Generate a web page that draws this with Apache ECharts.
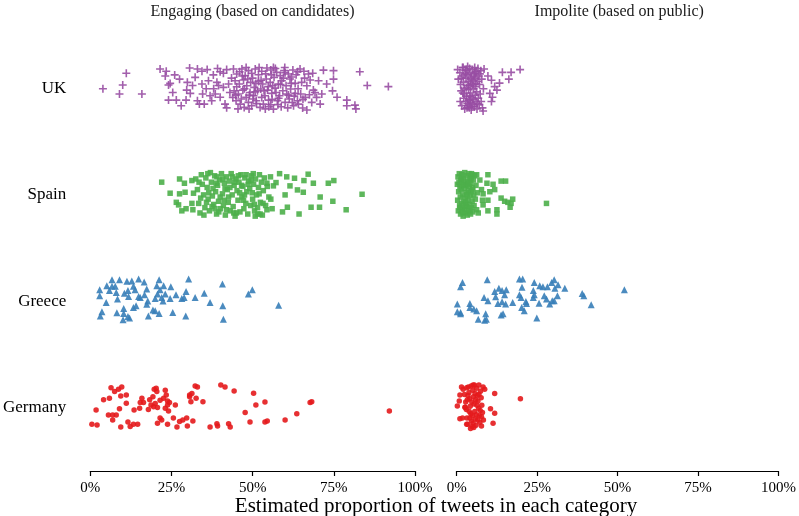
<!DOCTYPE html>
<html>
<head>
<meta charset="utf-8">
<title>Engaging vs impolite tweets</title>
<script src="https://cdn.jsdelivr.net/npm/echarts@6.0.0/dist/echarts.min.js"></script>
<style>
  html, body { margin: 0; padding: 0; background: #fff; }
  #chart { width: 799px; height: 516px; }
</style>
</head>
<body>
<div id="chart"></div>
<script>
// categories, bottom to top (y = index + 1)
var countries = ['Germany', 'Greece', 'Spain', 'UK'];
var panels = ['Engaging (based on candidates)', 'Impolite (based on public)'];
var xTicks = [0, 25, 50, 75, 100];

// every point: [percent of tweets, vertical jitter]
var ukEngaging = [
  [3.9,0.0],[11.1,0.145],[10.0,0.035],[9.0,-0.05],[15.9,-0.05],[21.5,0.185],[23.4,0.165],[23.1,0.12],
  [27.5,0.09],[24.1,0.035],[24.6,0.05],[25.4,-0.035],[24.1,-0.107],[26.5,-0.107],[29.9,0.06],[30.6,0.195],
  [33.0,0.185],[34.4,0.165],[29.7,-0.013],[30.8,-0.044],[29.5,-0.107],[33.0,-0.113],[33.6,-0.145],[34.4,0.044],
  [34.6,-0.05],[35.7,0.0],[37.4,-0.113],[32.3,0.107],[36.9,-0.066],[35.1,-0.145],[36.4,0.075],
  [37.9,0.13],[39.2,0.19],[40.0,0.16],[41.0,0.145],[42.0,0.18],[39.0,0.06],[39.5,0.03],[38.5,-0.05],
  [40.0,-0.08],[41.5,-0.145],[42.0,-0.18],[41.0,0.013],[42.6,0.044],[43.0,-0.035],
  [44.1,0.186],[45.1,0.138],[46.7,0.186],[47.7,0.123],[48.7,0.17],[49.7,0.145],[50.8,0.186],[51.8,0.132],
  [52.8,0.164],[44.6,0.075],[45.9,0.044],[47.2,0.082],[48.2,0.028],[49.4,0.06],[50.5,0.013],[51.8,0.069],
  [53.1,0.044],[44.3,-0.019],[45.6,-0.05],[47.0,-0.013],[48.0,-0.082],[49.2,-0.035],[50.3,-0.066],[51.5,-0.019],
  [52.8,-0.082],[44.9,-0.113],[46.2,-0.145],[47.4,-0.176],[48.7,-0.129],[49.7,-0.16],[51.1,-0.113],[52.3,-0.176],
  [53.3,-0.145],[43.9,-0.082],[45.1,0.019],[46.5,-0.097],[48.5,0.091],[50.1,-0.097],[52.5,-0.003],
  [54.4,0.195],[55.6,0.176],[56.4,0.2],[57.4,0.154],[58.5,0.123],[59.7,0.17],[61.0,0.138],[62.4,0.176],
  [63.4,0.132],[54.2,0.091],[55.4,0.06],[56.6,0.107],[57.9,0.044],[59.0,0.075],[60.3,0.028],[61.5,0.091],
  [63.1,0.05],[54.6,-0.013],[55.9,-0.044],[56.9,0.006],[58.3,-0.066],[59.3,-0.019],[60.5,-0.05],[61.7,-0.003],
  [63.1,-0.044],[54.9,-0.107],[55.6,-0.151],[56.4,-0.192],[57.6,-0.113],[58.8,-0.17],[60.0,-0.129],[61.3,-0.097],
  [62.6,-0.16],[63.8,-0.113],[57.2,-0.035],[53.8,-0.066],
  [64.6,0.186],[65.8,0.164],[67.2,0.138],[68.5,0.145],[65.1,0.06],[66.7,0.028],[67.7,0.082],[68.7,-0.013],
  [64.8,-0.05],[66.2,-0.082],[67.5,-0.057],[64.1,-0.145],[65.4,-0.182],[66.7,-0.2],[68.2,-0.129],[69.7,-0.082],
  [83.0,0.16],[85.3,0.03],[91.8,0.02],[79.0,-0.107],[79.0,-0.16],[81.5,-0.155],[81.8,-0.19],[76.0,-0.08],
  [74.9,0.17],[71.8,0.175],[72.8,0.044],[74.6,-0.02],[74.9,0.09],[70.3,0.075],[70.8,-0.145],[71.3,-0.05],[69.2,-0.035],
  [43.5,0.1],[44.8,-0.06],[46.0,0.16],[47.5,0.0],[48.9,-0.19],[50.0,0.1],[51.2,-0.14],[52.0,0.2],[53.5,-0.02],
  [54.0,0.14],[55.0,-0.17],[56.2,0.03],[57.0,0.19],[58.0,-0.09],[59.5,0.1],[60.8,-0.18],[61.9,0.05],[62.8,-0.07],
  [63.9,0.16],[65.5,-0.1],[46.8,0.12],[49.0,-0.06],[51.0,0.05],[53.9,-0.19],[55.8,0.13],[57.8,-0.15],[59.9,0.2],
  [61.0,-0.06],[62.0,0.11],[64.0,0.0],[45.5,-0.19],[48.0,0.2],[50.8,-0.03],[52.6,0.08],[54.8,0.02],[56.0,-0.1],
  [58.6,0.04],[60.0,0.15],[62.2,-0.13],[66.0,0.1],[38.0,0.0],[36.0,0.18],[31.5,0.03],[28.0,-0.16],[26.0,0.13]
];
var ukImpolite = [
  [0.3,0.18],[0.5,0.09],[1.0,0.15],[1.2,0.04],[1.4,-0.02],[1.1,-0.12],[1.6,-0.16],[1.8,0.2],[2.0,0.12],[2.1,0.06],
  [2.3,-0.05],[2.2,-0.09],[2.5,-0.19],[2.7,0.17],[2.9,0.1],[3.0,0.01],[3.1,-0.07],[3.3,-0.14],[3.4,0.21],[3.5,0.13],
  [3.6,0.07],[3.7,-0.01],[3.8,-0.11],[3.9,-0.18],[4.0,0.19],[4.1,0.15],[4.2,0.03],[4.3,-0.04],[4.4,-0.13],[4.5,-0.2],
  [4.6,0.11],[4.7,0.05],[4.8,-0.08],[4.9,0.18],[5.0,-0.15],[5.1,0.08],[5.2,0.0],[5.3,-0.1],[5.4,0.14],[5.5,-0.17],
  [5.6,0.2],[5.7,0.02],[5.8,-0.06],[5.9,0.1],[6.0,-0.12],[6.1,0.16],[6.2,-0.03],[6.3,-0.19],[6.5,0.07],[6.6,0.19],
  [6.7,-0.09],[6.8,0.12],[7.0,-0.15],[7.1,0.04],[7.3,-0.05],[7.5,0.17],[7.6,-0.12],[7.8,0.09],[8.0,-0.18],[8.3,0.0],
  [1.5,0.1],[2.4,0.0],[2.6,0.14],[3.2,-0.18],[3.6,-0.16],[4.4,0.09],[4.0,-0.07],[5.0,0.04],[5.5,0.12],[6.0,0.05],
  [2.8,-0.12],[1.9,-0.04],[3.0,0.18],[4.7,-0.17],[5.8,0.16],[6.4,-0.14],[7.2,0.14],[3.5,0.03],[4.2,-0.1],[2.0,0.2],
  [14.2,0.154],[16.9,0.154],[19.7,0.18],[16.2,0.09],[13.3,0.053],[11.8,0.02],[12.5,-0.013],[10.3,-0.044],
  [11.1,-0.08],[10.8,-0.12],[8.2,-0.21],[8.5,0.185],[9.7,0.12],[10.8,0.08]
];
var spainEngaging = [
  [22.0,0.12],[24.6,0.016],[27.5,0.15],[29.0,0.11],[27.5,0.01],[26.5,-0.07],[27.2,-0.094],[28.2,-0.15],
  [29.5,-0.13],[29.2,0.025],[31.3,0.135],[31.8,0.016],[31.3,-0.08],[31.6,-0.14],
  [32.5,0.15],[33.0,0.05],[33.4,-0.08],[33.8,-0.17],[34.2,0.19],[34.5,0.1],[34.9,0.0],[35.3,-0.12],[35.6,0.16],
  [36.0,0.07],[36.3,-0.04],[36.7,-0.15],[37.0,0.21],[37.3,0.12],[37.6,-0.01],[38.0,-0.09],[38.3,0.18],[38.6,0.03],
  [38.9,-0.18],[39.2,0.09],[39.5,-0.06],[39.8,0.14],[40.1,-0.13],[40.4,0.2],[40.7,0.01],[41.0,-0.1],[41.3,0.11],
  [41.6,-0.19],[41.9,0.17],[42.2,0.05],[42.5,-0.07],[42.8,0.13],[43.1,-0.15],[43.4,0.2],[43.7,0.0],[44.0,-0.11],
  [44.3,0.09],[44.6,-0.2],[44.9,0.15],[45.2,0.04],[45.5,-0.05],[45.8,0.12],[46.1,-0.16],[46.4,0.19],[46.7,-0.02],
  [47.0,0.08],[47.3,-0.13],[47.6,0.16],[47.9,-0.08],[48.2,0.03],[48.5,-0.18],[48.8,0.13],[49.1,0.06],[49.4,-0.1],
  [49.7,0.18],[50.0,-0.04],[50.3,0.1],[50.6,-0.15],[50.9,0.15],[51.2,0.0],[51.5,-0.12],[51.8,0.07],[52.1,0.19],
  [52.4,-0.07],[52.7,0.12],[53.0,-0.19],[53.3,0.04],[53.6,0.16],[54.0,-0.1],[54.5,0.08],[55.0,-0.02],[55.5,0.17],
  [56.0,-0.13],[34.0,-0.03],[36.5,0.02],[38.8,0.11],[40.0,-0.02],[42.0,-0.14],[44.5,0.12],[46.0,0.02],[48.0,0.19],
  [50.5,-0.09],[52.0,0.01],[37.5,-0.11],[43.0,0.07],[45.0,-0.17],[47.5,0.0],[49.5,0.14],[39.0,0.17],[41.5,0.06],
  [58.3,0.2],[60.5,0.17],[62.9,0.157],[67.1,0.195],[65.8,0.135],[68.7,0.11],[73.3,0.11],[75.0,0.135],[83.7,0.006],
  [70.8,-0.02],[74.7,-0.06],[78.8,-0.14],[68.0,-0.116],[70.6,-0.116],[64.3,-0.18],[59.2,-0.16],[60.7,-0.116],
  [60.0,0.0],[63.8,0.047],[65.6,0.025],[61.5,0.085],[57.2,0.116],[56.4,0.085],[54.4,0.11],[55.6,-0.04],
  [54.4,-0.14],[52.3,-0.18],[50.8,-0.2],
  [33.5,0.12],[35.0,-0.19],[36.2,0.2],[37.8,0.06],[39.6,-0.16],[40.8,0.15],[42.6,-0.02],[44.2,-0.17],[45.6,0.18],
  [47.2,-0.05],[48.6,0.1],[50.2,0.2],[51.6,-0.18],[53.2,-0.08],[35.8,-0.07],[38.4,-0.13],[41.2,-0.05],[43.8,0.17],
  [46.6,0.09],[49.9,0.02]
];
var spainImpolite = [
  [0.2,0.1],[0.3,-0.05],[0.4,0.17],[0.5,-0.15],[0.6,0.03],[0.8,0.2],[0.9,-0.1],[1.0,0.08],[1.1,-0.02],[1.2,-0.18],
  [1.3,0.14],[1.4,0.05],[1.5,-0.08],[1.6,0.19],[1.7,-0.13],[1.8,0.1],[1.9,0.0],[2.0,-0.2],[2.1,0.16],[2.2,-0.06],
  [2.3,0.06],[2.4,-0.14],[2.5,0.21],[2.6,0.12],[2.7,-0.03],[2.8,-0.17],[2.9,0.09],[3.0,0.02],[3.1,-0.11],[3.2,0.18],
  [3.3,-0.19],[3.4,0.13],[3.5,-0.05],[3.6,0.04],[3.7,-0.15],[3.8,0.2],[3.9,0.08],[4.0,-0.09],[4.1,0.15],[4.2,-0.01],
  [4.3,-0.18],[4.4,0.11],[4.5,0.03],[4.6,-0.12],[4.7,0.19],[4.8,-0.06],[4.9,0.07],[5.0,-0.16],[5.2,0.14],[5.3,0.0],
  [5.4,-0.1],[5.6,0.18],[5.8,-0.04],[6.0,0.09],[6.2,-0.14],[6.4,0.02],[0.7,0.12],[1.5,0.15],[2.2,0.1],[2.9,-0.08],
  [3.4,0.0],[4.1,-0.14],[1.0,-0.12],[2.6,-0.1],[3.7,0.1],[4.5,0.16],[1.8,-0.16],[5.0,0.05],
  [27.9,-0.08],[9.7,0.19],[13.8,0.13],[15.2,0.13],[9.4,0.11],[11.3,0.1],[11.8,0.05],[10.3,0.03],[7.2,0.14],
  [7.7,0.05],[8.2,0.01],[8.0,-0.05],[9.7,-0.05],[13.8,-0.03],[14.9,-0.06],[15.9,-0.07],[17.4,-0.04],[16.9,-0.08],
  [16.6,-0.116],[9.7,-0.15],[12.5,-0.14],[12.5,-0.18],[6.7,-0.17],[8.2,-0.094],[6.2,0.19],[4.6,0.2]
];
var greeceEngaging = [
  [2.9,0.107],[2.9,0.05],[3.6,-0.1],[3.1,-0.14],[4.9,-0.013],[5.1,0.145],[6.7,0.2],[6.7,0.14],[7.7,0.14],
  [5.9,0.1],[8.0,0.08],[8.4,0.02],[9.0,0.2],[8.2,-0.11],[10.3,-0.07],[10.3,-0.116],[10.1,-0.176],[11.3,0.186],
  [11.6,0.1],[10.5,0.075],[11.8,0.044],[11.6,-0.145],[12.1,-0.16],[12.8,0.19],[13.3,0.14],[13.8,0.107],
  [13.3,-0.06],[14.1,-0.044],[14.9,0.207],[14.9,0.044],[15.4,0.035],[16.6,0.18],[16.7,0.06],[17.4,0.113],
  [17.7,0.0],[17.4,-0.03],[17.9,-0.14],[19.3,-0.085],[20.0,-0.09],[21.2,0.2],[20.5,0.145],[21.5,0.107],
  [22.6,0.145],[20.7,0.066],[22.0,0.035],[23.1,0.066],[22.4,0.0],[20.0,0.025],[21.2,-0.116],[24.8,0.135],
  [26.4,0.06],[24.6,0.025],[25.4,-0.107],[28.2,0.025],[28.9,0.035],[29.5,0.09],[29.4,-0.14],[30.3,0.207],
  [32.3,0.035],[35.1,0.075],[36.9,-0.013],[40.7,0.16],[40.8,-0.044],[41.0,-0.17],[48.7,0.066],[49.9,0.107],
  [58.0,-0.038]
];
var greeceImpolite = [
  [1.8,0.176],[1.2,0.135],[0.2,-0.028],[0.2,-0.1],[1.2,-0.107],[1.2,-0.12],[4.1,-0.022],[4.1,-0.06],[5.3,-0.075],
  [6.2,-0.09],[6.7,-0.17],[8.5,0.035],[9.5,0.2],[9.7,0.003],[9.0,-0.12],[9.2,-0.17],[8.7,-0.18],[11.8,0.09],
  [12.1,0.04],[13.1,0.12],[14.1,0.1],[15.4,0.107],[14.9,0.06],[14.1,-0.006],[12.8,-0.022],[15.2,-0.028],
  [13.8,-0.13],[14.4,-0.12],[17.4,-0.013],[19.5,0.207],[20.5,0.207],[20.3,0.13],[19.5,0.06],[20.0,0.035],
  [20.2,-0.06],[21.0,-0.09],[21.7,-0.022],[21.5,-0.003],[23.8,0.1],[24.1,0.176],[23.8,0.035],[24.1,0.06],
  [25.6,-0.02],[24.9,-0.16],[25.8,0.145],[26.8,0.135],[28.2,0.135],[27.2,0.05],[27.9,0.02],[28.9,-0.028],
  [29.7,0.003],[30.3,0.003],[29.5,0.176],[30.3,0.2],[30.5,0.12],[31.5,0.154],[31.3,0.05],[33.6,0.12],
  [39.0,0.072],[39.5,0.05],[41.8,-0.035],[52.1,0.107]
];
var germanyEngaging = [
  [0.5,-0.16],[2.1,-0.167],[1.8,-0.025],[4.1,0.07],[5.9,0.085],[6.4,0.185],[7.5,0.148],[8.7,0.17],[9.7,0.19],
  [9.4,0.107],[11.1,0.116],[11.1,0.038],[9.0,-0.013],[5.6,-0.072],[6.9,-0.072],[8.0,-0.072],[6.9,-0.12],
  [9.4,-0.186],[11.6,-0.138],[12.3,-0.18],[13.3,-0.16],[14.6,-0.16],[13.5,-0.025],[15.2,-0.01],[15.9,0.085],
  [15.4,0.044],[16.4,0.044],[18.3,0.07],[19.3,0.1],[19.7,0.17],[20.3,0.18],[20.5,0.148],[18.7,0.022],[19.5,0.006],
  [20.0,0.035],[20.7,-0.003],[17.9,-0.02],[21.5,0.066],[22.6,0.085],[23.4,0.116],[23.1,0.16],[23.8,0.06],
  [23.8,0.022],[23.1,-0.01],[24.1,-0.035],[24.4,0.044],[26.2,0.022],[21.5,-0.1],[22.0,-0.12],[20.7,-0.15],
  [23.8,-0.16],[25.6,-0.1],[26.7,-0.185],[27.5,-0.135],[28.5,-0.12],[29.7,-0.1],[29.9,-0.176],[30.6,0.116],
  [31.3,0.13],[30.6,0.1],[32.3,0.2],[33.0,0.19],[32.6,0.085],[31.0,0.053],[31.6,-0.13],[34.7,0.053],[36.9,-0.186],
  [39.0,-0.154],[39.2,-0.176],[40.2,0.21],[41.5,0.19],[42.6,-0.154],[43.1,-0.186],[44.3,0.154],[47.7,-0.05],
  [49.2,-0.138],[50.3,0.132],[51.0,0.022],[53.8,0.05],[53.8,-0.138],[54.5,-0.13],[60.0,-0.12],[63.6,-0.06],
  [67.7,0.044],[68.2,0.053],[92.1,-0.035]
];
var germanyImpolite = [
  [2.0,0.17],[2.4,0.12],[2.8,0.05],[3.0,-0.02],[3.2,-0.1],[3.4,-0.16],[3.6,0.19],[3.8,0.14],[4.0,0.08],[4.2,0.01],
  [4.4,-0.06],[4.6,-0.13],[4.8,-0.18],[5.0,0.16],[5.2,0.1],[5.4,0.03],[5.6,-0.04],[5.8,-0.11],[6.0,-0.17],[6.2,0.18],
  [6.4,0.11],[6.6,0.06],[6.8,-0.01],[7.0,-0.08],[7.2,-0.14],[7.4,0.15],[7.6,0.09],[7.8,0.02],[8.0,-0.05],[8.3,-0.12],
  [4.5,0.2],[5.5,0.21],[3.3,0.07],[4.1,-0.1],[5.1,-0.15],[6.1,-0.07],[5.7,0.13],[4.7,0.05],[3.9,-0.04],[6.9,0.12],
  [7.3,-0.03],[6.5,-0.12],[5.3,-0.19],[4.3,-0.2],[2.6,0.0],[3.5,0.11],[4.9,-0.08],[6.3,0.02],[7.7,-0.09],[5.9,0.07],
  [19.8,0.08],[11.8,0.13],[10.5,-0.013],[11.8,-0.057],[11.3,-0.15],[0.2,0.013],[1.0,0.116],[0.8,0.06],[1.0,-0.107],
  [1.8,-0.1],[2.6,0.0],[1.5,0.19],[3.1,0.185],[5.1,0.21],[6.9,0.21],[8.2,0.19],[8.7,0.17],[7.7,-0.176],[3.1,-0.16]
];

var plusPath = 'path://M4,0H6V4H10V6H6V10H4V6H0V4H4Z';
var serif = "'Liberation Serif', 'DejaVu Serif', serif";

var markers = {
  UK: { symbol: plusPath, size: 8, color: '#984EA3' },
  Spain: { symbol: 'rect', size: 5.5, color: '#4DAF4A' },
  Greece: { symbol: 'triangle', size: 7, color: '#377EB8' },
  Germany: { symbol: 'circle', size: 5.5, color: '#E41A1C' }
};

var byPanel = [
  { Germany: germanyEngaging, Greece: greeceEngaging, Spain: spainEngaging, UK: ukEngaging },
  { Germany: germanyImpolite, Greece: greeceImpolite, Spain: spainImpolite, UK: ukImpolite }
];

function toPoints(list, country) {
  var base = countries.indexOf(country) + 1;
  return list.map(function (d) { return [d[0], base + d[1]]; });
}

var series = [];
byPanel.forEach(function (panel, p) {
  countries.forEach(function (c) {
    var m = markers[c];
    series.push({
      type: 'scatter',
      name: c,
      xAxisIndex: p,
      yAxisIndex: p,
      symbol: m.symbol,
      symbolSize: m.size,
      itemStyle: { color: m.color, opacity: 0.9 },
      silent: true,
      data: toPoints(panel[c], c)
    });
  });
});

var grids = [
  { left: 90, top: 25, width: 325, height: 446 },
  { left: 456.7, top: 25, width: 325, height: 446 }
];

function xAxisFor(i) {
  return {
    type: 'value',
    gridIndex: i,
    min: 0,
    max: 100,
    interval: 25,
    axisLine: { show: true, lineStyle: { color: '#000', width: 1.2 } },
    axisTick: { show: true, length: 5, lineStyle: { color: '#000', width: 1.2 }, customValues: xTicks },
    axisLabel: {
      customValues: xTicks,
      formatter: '{value}%',
      fontFamily: serif,
      fontSize: 15,
      color: '#000',
      margin: 10
    },
    splitLine: { show: false }
  };
}

function yAxisFor(i) {
  return {
    type: 'value',
    gridIndex: i,
    min: 0.4,
    max: 4.6,
    axisLine: { show: false },
    axisTick: { show: false },
    splitLine: { show: false },
    axisLabel: {
      show: i === 0,
      customValues: [1, 2, 3, 4],
      formatter: function (v) { return countries[Math.round(v) - 1] || ''; },
      fontFamily: serif,
      fontSize: 17,
      color: '#000',
      margin: 24
    }
  };
}

var chart = echarts.init(document.getElementById('chart'), null, { renderer: 'canvas' });
chart.setOption({
  animation: false,
  backgroundColor: '#fff',
  grid: grids,
  xAxis: [xAxisFor(0), xAxisFor(1)],
  yAxis: [yAxisFor(0), yAxisFor(1)],
  graphic: [
    {
      type: 'text',
      style: { text: panels[0], x: 252.5, y: 12, align: 'center', verticalAlign: 'middle', font: '16px ' + serif, fill: '#1a1a1a' }
    },
    {
      type: 'text',
      style: { text: panels[1], x: 619.2, y: 12, align: 'center', verticalAlign: 'middle', font: '16px ' + serif, fill: '#1a1a1a' }
    },
    {
      type: 'text',
      style: { text: 'Estimated proportion of tweets in each category', x: 436, y: 506, align: 'center', verticalAlign: 'middle', font: '21px ' + serif, fill: '#000' }
    }
  ],
  series: series
});
</script>
</body>
</html>
